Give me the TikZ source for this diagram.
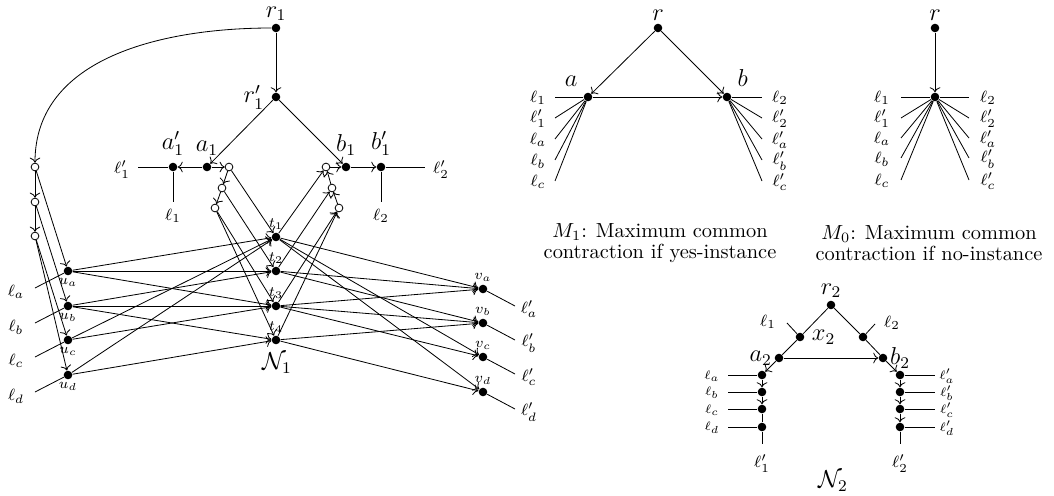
\documentclass[tikz,border=0pt]{standalone}
\usepackage{amsmath,amssymb}
\usetikzlibrary{arrows.meta,positioning}
\begin{document}
\begin{tikzpicture}[x=0.01722cm,y=-0.01722cm,
  every label/.style={font=\large},
  top/.style={inner sep=1pt},
  dot/.style={circle,fill,inner sep=0pt,minimum size=4.2pt},
  hole/.style={circle,draw,fill=white,inner sep=0pt,minimum size=3.8pt},
  leaf/.style={font=\footnotesize,inner sep=0pt},
  tag/.style={font=\scriptsize,inner sep=1pt},
  flat/.style={font=\fontsize{6}{6}\selectfont,inner sep=0pt},
  caption/.style={align=center,font=\fontsize{10}{10.3}\selectfont}]
\useasboundingbox (0,0) rectangle (1054,496);
% ---- N_1 ----
\node[dot,label={[top]above:$r_1$}] (r1) at (276,28) {};
\node[dot,label={left:$r'_1$}] (r1p) at (276,97) {};
\node[dot,label={above:$a'_1$}] (a1p) at (173,167) {};
\node[dot,label={above:$a_1$}] (a1) at (207,167) {};
\node[dot,label={above:$b_1$}] (b1) at (346,167) {};
\node[dot,label={above:$b'_1$}] (b1p) at (381,167) {};
\node[hole] (o1) at (229,167) {};
\node[hole] (o2) at (222,188) {};
\node[hole] (o3) at (215,208) {};
\node[hole] (p1) at (326,167) {};
\node[hole] (p2) at (332,188) {};
\node[hole] (p3) at (339,208) {};
\node[hole] (c1) at (35,167) {};
\node[hole] (c2) at (35,202) {};
\node[hole] (c3) at (35,236) {};
\coordinate (e1p) at (138,167);
\coordinate (e1) at (173,202);
\coordinate (e2) at (381,202);
\coordinate (e2p) at (425,167);
\node[leaf] (n1p) at (122,170) {$\ell'_1$};
\node[leaf] (n1) at (173,216) {$\ell_1$};
\node[leaf] (n2) at (381,216) {$\ell_2$};
\node[leaf] (n2p) at (441,170) {$\ell'_2$};
\draw (e1p) -- (a1p) -- (e1);
\draw (b1p) -- (e2);
\draw (b1p) -- (e2p);
\draw[->] (r1) -- (r1p);
\draw[->] (r1p) -- (a1);
\draw[->] (r1p) -- (b1);
\draw[->] (a1) -- (a1p);
\draw[->] (a1) -- (o1);
\draw[->] (o1) -- (o2);
\draw[->] (o2) -- (o3);
\draw[->] (p3) -- (p2);
\draw[->] (p2) -- (p1);
\draw[->] (p1) -- (b1);
\draw[->] (b1) -- (b1p);
\draw[->] (r1) to[out=180,in=90] (c1);
\draw[->] (c1) -- (c2);
\draw[->] (c2) -- (c3);
\foreach \i/\y in {1/237,2/271,3/306,4/340}
  \node[dot,label={[tag]above:$t_\i$}] (t\i) at (276,\y) {};
\foreach \n/\y in {a/271,b/306,c/340,d/375}{
  \node[dot,label={[tag]below:$u_\n$}] (u\n) at (68,\y) {};
  \coordinate (lu\n) at (35,\y+17);
  \node[leaf] (nu\n) at (16,\y+21) {$\ell_\n$};
  \draw (lu\n) -- (u\n);
}
\foreach \n/\y in {a/289,b/323,c/357,d/392}{
  \node[dot,label={[tag]above:$v_\n$}] (v\n) at (483,\y) {};
  \coordinate (lv\n) at (515,\y+17);
  \node[leaf] (nv\n) at (529,\y+20) {$\ell'_\n$};
  \draw (v\n) -- (lv\n);
}
\draw[->] (c1) -- (ua);
\draw[->] (c2) -- (ub);
\draw[->] (c3) -- (uc);
\draw[->] (c3) -- (ud);
\draw[->] (o1) -- (t1);
\draw[->] (o2) -- (t2);
\draw[->] (o3) -- (t3);
\draw[->] (o3) -- (t4);
\draw[->] (t1) -- (p1);
\draw[->] (t2) -- (p2);
\draw[->] (t3) -- (p3);
\draw[->] (t4) -- (p3);
\foreach \u/\t in {a/1,a/2,a/3,b/2,b/3,b/4,c/1,c/3,d/1,d/4}
  \draw[->] (u\u) -- (t\t);
\foreach \t/\v in {1/a,1/c,1/d,2/a,2/b,3/a,3/b,3/c,4/b,4/d}
  \draw[->] (t\t) -- (v\v);
\node[font=\large] (N1) at (277,363) {$\mathcal{N}_1$};
% ---- M_1 ----
\node[dot,label={[top]above:$r$}] (mr) at (658,28) {};
\node[dot,label={above left:$a$}] (ma) at (588,97) {};
\node[dot,label={above right:$b$}] (mb) at (727,97) {};
\draw[->] (mr) -- (ma);
\draw[->] (mr) -- (mb);
\draw[->] (ma) -- (mb);
\foreach \k/\y/\l/\r in {1/97/\ell_1/\ell_2,2/118/\ell'_1/\ell'_2,3/139/\ell_a/\ell'_a,4/160/\ell_b/\ell'_b,5/181/\ell_c/\ell'_c}{
  \coordinate (ml\k) at (555,\y);
  \coordinate (mm\k) at (762,\y);
  \node[leaf] (mln\k) at (538,\y+1) {$\l$};
  \node[leaf] (mrn\k) at (780,\y+1) {$\r$};
  \draw (ml\k) -- (ma);
  \draw (mb) -- (mm\k);
}
\node[caption] (capa) at (660,243) {$M_1$: Maximum common\\contraction if yes-instance};
% ---- M_0 ----
\node[dot,label={[top]above:$r$}] (zr) at (935,28) {};
\node[dot] (zc) at (935,97) {};
\draw[->] (zr) -- (zc);
\foreach \k/\y/\l/\r in {1/97/\ell_1/\ell_2,2/118/\ell'_1/\ell'_2,3/138/\ell_a/\ell'_a,4/158/\ell_b/\ell'_b,5/180/\ell_c/\ell'_c}{
  \coordinate (zl\k) at (901,\y);
  \coordinate (zm\k) at (969,\y);
  \node[leaf] (zln\k) at (882,\y+1) {$\l$};
  \node[leaf] (zrn\k) at (988,\y+1) {$\r$};
  \draw (zl\k) -- (zc) -- (zm\k);
}
\node[caption] (capz) at (929,243) {$M_0$: Maximum common\\contraction if no-instance};
% ---- N_2 ----
\node[dot,label={[top]above:$r_2$}] (r2) at (831,305) {};
\node[dot,label={right:$x_2$}] (x2) at (800,337) {};
\node[dot] (y2) at (863,337) {};
\node[dot,label={[inner sep=1pt]left:$a_2$}] (a2) at (779,358) {};
\node[dot,label={[inner sep=1pt]right:$b_2$}] (b2) at (883,358) {};
\coordinate (x2e) at (787,323);
\coordinate (y2e) at (875,324);
\node[leaf] (x2n) at (768,322) {$\ell_1$};
\node[leaf] (y2n) at (892,323) {$\ell_2$};
\draw (x2e) -- (x2);
\draw (y2e) -- (y2);
\draw (a2) -- (x2) -- (r2) -- (y2) -- (b2);
\draw[->] (a2) -- (b2);
\foreach \k/\y/\n in {1/375/a,2/392/b,3/409/c,4/427/d}{
  \node[dot] (s\k) at (762,\y) {};
  \node[dot] (w\k) at (900,\y) {};
  \coordinate (se\k) at (728,\y);
  \coordinate (we\k) at (935,\y);
  \node[flat] (sn\k) at (712,\y+1) {$\ell_\n$};
  \node[flat] (wn\k) at (947,\y+1) {$\ell'_\n$};
  \draw (se\k) -- (s\k);
  \draw (w\k) -- (we\k);
}
\coordinate (s5) at (762,444);
\coordinate (w5) at (900,444);
\node[leaf] (s5n) at (762,464) {$\ell'_1$};
\node[leaf] (w5n) at (900,464) {$\ell'_2$};
\draw[->] (a2) -- (s1);
\draw[->] (s1) -- (s2);
\draw[->] (s2) -- (s3);
\draw (s3) -- (s4) -- (s5);
\draw[->] (b2) -- (w1);
\draw[->] (w1) -- (w2);
\draw[->] (w2) -- (w3);
\draw[->] (w3) -- (w4);
\draw (w4) -- (w5);
\node[font=\large] (N2) at (833,481) {$\mathcal{N}_2$};
\end{tikzpicture}
\end{document}
